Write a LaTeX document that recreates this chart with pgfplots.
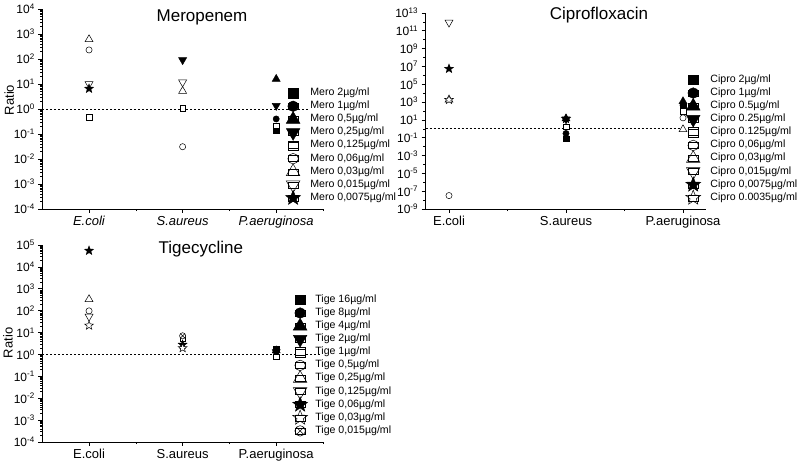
\documentclass[border=0pt]{standalone}
\usepackage{fontspec}
\setmainfont{Liberation Sans}
\usepackage{pgfplots}
\pgfplotsset{compat=1.18}
\newdimen\starin
\pgfdeclareplotmark{star5}{%
  \starin=0.42\pgfplotmarksize
  \pgfpathmoveto{\pgfqpointpolar{90}{\pgfplotmarksize}}%
  \pgfpathlineto{\pgfqpointpolar{126}{\starin}}%
  \pgfpathlineto{\pgfqpointpolar{162}{\pgfplotmarksize}}%
  \pgfpathlineto{\pgfqpointpolar{198}{\starin}}%
  \pgfpathlineto{\pgfqpointpolar{234}{\pgfplotmarksize}}%
  \pgfpathlineto{\pgfqpointpolar{270}{\starin}}%
  \pgfpathlineto{\pgfqpointpolar{306}{\pgfplotmarksize}}%
  \pgfpathlineto{\pgfqpointpolar{342}{\starin}}%
  \pgfpathlineto{\pgfqpointpolar{18}{\pgfplotmarksize}}%
  \pgfpathlineto{\pgfqpointpolar{54}{\starin}}%
  \pgfpathclose
  \pgfusepathqfillstroke}
\tikzset{
  FSQ/.style={only marks, mark=square*, mark size=2.8pt, mark options={solid, fill=black, draw=black, line width=0.5pt}},
  FCI/.style={only marks, mark=*, mark size=3.1pt, mark options={solid, fill=black, draw=black, line width=0.5pt}},
  FTU/.style={only marks, mark=triangle*, mark size=4.6pt, mark options={solid, fill=black, draw=black, line width=0.5pt}},
  FTD/.style={only marks, mark=triangle*, mark size=4.6pt, mark options={solid, rotate=180, fill=black, draw=black, line width=0.5pt}},
  OSQ/.style={only marks, mark=square*, mark size=2.8pt, mark options={solid, fill=white, draw=black, line width=0.5pt}},
  OCI/.style={only marks, mark=*, mark size=3.1pt, mark options={solid, fill=white, draw=black, line width=0.5pt}},
  OTU/.style={only marks, mark=triangle*, mark size=4.6pt, mark options={solid, fill=white, draw=black, line width=0.5pt}},
  OTD/.style={only marks, mark=triangle*, mark size=4.6pt, mark options={solid, rotate=180, fill=white, draw=black, line width=0.5pt}},
  FST/.style={only marks, mark=star5, mark size=4.6pt, mark options={solid, fill=black, draw=black, line width=0.5pt}},
  OST/.style={only marks, mark=star5, mark size=4.6pt, mark options={solid, fill=white, draw=black, line width=0.5pt}},
  OXC/.style={only marks, mark=otimes*, mark size=3.1pt, mark options={solid, fill=white, draw=black, line width=0.5pt}},
  refline/.style={black, dash pattern=on 2pt off 2pt, line width=0.7pt},
}
% minor log ticks (2..9 in each decade)
\gdef\minorA{}
\foreach \d in {-4,...,3}{\foreach \k in {2,...,9}{\xdef\minorA{\minorA\k e\d,}}}
\gdef\minorC{}
\foreach \d in {-4,...,4}{\foreach \k in {2,...,9}{\xdef\minorC{\minorC\k e\d,}}}
\pgfplotsset{
  legend image code/.code={\draw[#1, every mark/.append style={scale=1.7}, overlay] plot coordinates {(5pt,0pt)}; \path (0pt,-3pt) rectangle (10pt,3pt);},
  panel/.style={
    scale only axis,
    axis x line=bottom, axis y line=left,
    axis line style={-, line width=0.8pt, black},
    tick align=outside, major tick length=4pt, minor tick length=2.2pt,
    tick style={line width=0.7pt, black},
    minor tick style={line width=0.5pt, black},
    xtick={1,2,3}, clip=false,
    yticklabel style={font=\fontsize{12}{12}\selectfont},
    xticklabel style={font=\fontsize{13}{13}\selectfont},
    every axis title/.style={font=\fontsize{17}{17}\selectfont, anchor=center},
    ylabel style={font=\fontsize{13}{13}\selectfont, anchor=center},
    legend cell align=left,
    legend style={draw=none, fill=none, inner sep=0pt, outer sep=0pt, row sep=0pt, column sep=12pt, anchor=north west, font=\fontsize{10.6}{10.6}\selectfont, nodes={inner sep=0pt, text height=9pt, text depth=4.1pt}},
  }
}
\begin{document}
\begin{tikzpicture}
\useasboundingbox (0,0) rectangle (798pt,463pt);
% ---------------- Meropenem
\begin{axis}[panel, ymode=log, at={(42.25pt,254pt)}, anchor=south west, width=280.75pt, height=200pt,
  xmin=0.5, xmax=3.5, minor xtick={1.5,2.5,3.5},
  xticklabels={\textit{E.coli},\textit{S.aureus},\textit{P.aeruginosa}},
  ymin=1e-4, ymax=1e4,
  ytick={1e-4,1e-3,1e-2,1e-1,1,1e1,1e2,1e3,1e4},
  minor ytick/.expanded={\minorA 1e4},
  yticklabels={10\textsuperscript{-4},10\textsuperscript{-3},10\textsuperscript{-2},10\textsuperscript{-1},10\textsuperscript{0},10\textsuperscript{1},10\textsuperscript{2},10\textsuperscript{3},10\textsuperscript{4}},
  title={Meropenem}, title style={at={(axis description cs:0.569,0.96)}},
  ylabel={Ratio}, ylabel style={at={(axis description cs:-0.118,0.545)}},
  legend style={at={(axis description cs:0.875,0.612)}},
]
\addplot[refline, forget plot] coordinates {(0.5,1) (3.36,1)};
\addplot[FSQ] coordinates {(3,0.135)}; \addlegendentry{Mero 2µg/ml}
\addplot[FCI] coordinates {(3,0.4)}; \addlegendentry{Mero 1µg/ml}
\addplot[FTU] coordinates {(3,15.8)}; \addlegendentry{Mero 0,5µg/ml}
\addplot[FTD] coordinates {(2,91) (3,1.35)}; \addlegendentry{Mero 0,25µg/ml}
\addplot[OSQ] coordinates {(1,0.47) (2,1.07) (3,0.21)}; \addlegendentry{Mero 0,125µg/ml}
\addplot[OCI] coordinates {(1,230) (2,0.031)}; \addlegendentry{Mero 0,06µg/ml}
\addplot[OTU] coordinates {(1,610) (2,5.2)}; \addlegendentry{Mero 0,03µg/ml}
\addplot[OTD] coordinates {(1,10) (2,11.7)}; \addlegendentry{Mero 0,015µg/ml}
\addplot[FST] coordinates {(1,6.5)}; \addlegendentry{Mero 0,0075µg/ml}
\end{axis}
% ---------------- Ciprofloxacin
\begin{axis}[panel, ymode=log, at={(425.6pt,254pt)}, anchor=south west, width=280.8pt, height=196pt,
  xmin=0.8, xmax=3.2, minor xtick={1.5,2.5},
  xticklabels={E.coli,S.aureus,P.aeruginosa},
  ymin=1e-9, ymax=1e13,
  ytick={1e-9,1e-7,1e-5,1e-3,1e-1,1e1,1e3,1e5,1e7,1e9,1e11,1e13},
  minor ytick={1e-8,1e-6,1e-4,1e-2,1,1e2,1e4,1e6,1e8,1e10,1e12},
  yticklabels={10\textsuperscript{-9},10\textsuperscript{-7},10\textsuperscript{-5},10\textsuperscript{-3},10\textsuperscript{-1},10\textsuperscript{1},10\textsuperscript{3},10\textsuperscript{5},10\textsuperscript{7},10\textsuperscript{9},10\textsuperscript{11},10\textsuperscript{13}},
  title={Ciprofloxacin}, title style={at={(axis description cs:0.6175,0.99)}},
  legend style={at={(axis description cs:0.9345,0.692)}},
]
\addplot[refline, forget plot] coordinates {(0.8,1) (3.0,1)};
\addplot[FSQ] coordinates {(2,0.075) (3,400)}; \addlegendentry{Cipro 2µg/ml}
\addplot[FCI] coordinates {(2,0.3) (3,450)}; \addlegendentry{Cipro 1µg/ml}
\addplot[FTU] coordinates {(2,14) (3,1200)}; \addlegendentry{Cipro 0.5µg/ml}
\addplot[FTD] coordinates {(2,12)}; \addlegendentry{Cipro 0.25µg/ml}
\addplot[OSQ] coordinates {(2,1.7) (3,96)}; \addlegendentry{Cipro 0.125µg/ml}
\addplot[OCI] coordinates {(1,3.2e-8) (3,17)}; \addlegendentry{Cipro 0,06µg/ml}
\addplot[OTU] coordinates {(1,1800) (3,0.85)}; \addlegendentry{Cipro 0,03µg/ml}
\addplot[OTD] coordinates {(1,8.7e11)}; \addlegendentry{Cipro 0,015µg/ml}
\addplot[FST] coordinates {(1,5.5e6) (2,13)}; \addlegendentry{Cipro 0,0075µg/ml}
\addplot[OST] coordinates {(1,1800)}; \addlegendentry{Cipro 0.0035µg/ml}
\end{axis}
% ---------------- Tigecycline
\begin{axis}[panel, ymode=log, at={(42.25pt,21pt)}, anchor=south west, width=280.75pt, height=197pt,
  xmin=0.5, xmax=3.5, minor xtick={1.5,2.5,3.5},
  xticklabels={E.coli,S.aureus,P.aeruginosa},
  ymin=1e-4, ymax=1e5,
  ytick={1e-4,1e-3,1e-2,1e-1,1,1e1,1e2,1e3,1e4,1e5},
  minor ytick/.expanded={\minorC 1e5},
  yticklabels={10\textsuperscript{-4},10\textsuperscript{-3},10\textsuperscript{-2},10\textsuperscript{-1},10\textsuperscript{0},10\textsuperscript{1},10\textsuperscript{2},10\textsuperscript{3},10\textsuperscript{4},10\textsuperscript{5}},
  title={Tigecycline}, title style={at={(axis description cs:0.565,0.98)}},
  ylabel={Ratio}, ylabel style={at={(axis description cs:-0.122,0.503)}},
  legend style={at={(axis description cs:0.900,0.7546)}, column sep=10pt},
]
\addplot[refline, forget plot] coordinates {(0.5,1) (3.47,1)};
\addplot[FSQ] coordinates {(3,1.8)}; \addlegendentry{Tige 16µg/ml}
\addplot[FCI] coordinates {(3,1.3)}; \addlegendentry{Tige 8µg/ml}
\addplot[FTU] coordinates {(3,1.5)}; \addlegendentry{Tige 4µg/ml}
\addplot[FTD] coordinates {(3,1.3)}; \addlegendentry{Tige 2µg/ml}
\addplot[OSQ] coordinates {(2,5.5) (3,0.8)}; \addlegendentry{Tige 1µg/ml}
\addplot[OCI] coordinates {(1,98)}; \addlegendentry{Tige 0,5µg/ml}
\addplot[OTU] coordinates {(1,330)}; \addlegendentry{Tige 0,25µg/ml}
\addplot[OTD] coordinates {(1,54)}; \addlegendentry{Tige 0,125µg/ml}
\addplot[FST] coordinates {(1,55000) (2,2.8)}; \addlegendentry{Tige 0,06µg/ml}
\addplot[OST] coordinates {(1,21) (2,1.95)}; \addlegendentry{Tige 0,03µg/ml}
\addplot[OXC] coordinates {(2,7.1)}; \addlegendentry{Tige 0,015µg/ml}
\end{axis}
\end{tikzpicture}
\end{document}
